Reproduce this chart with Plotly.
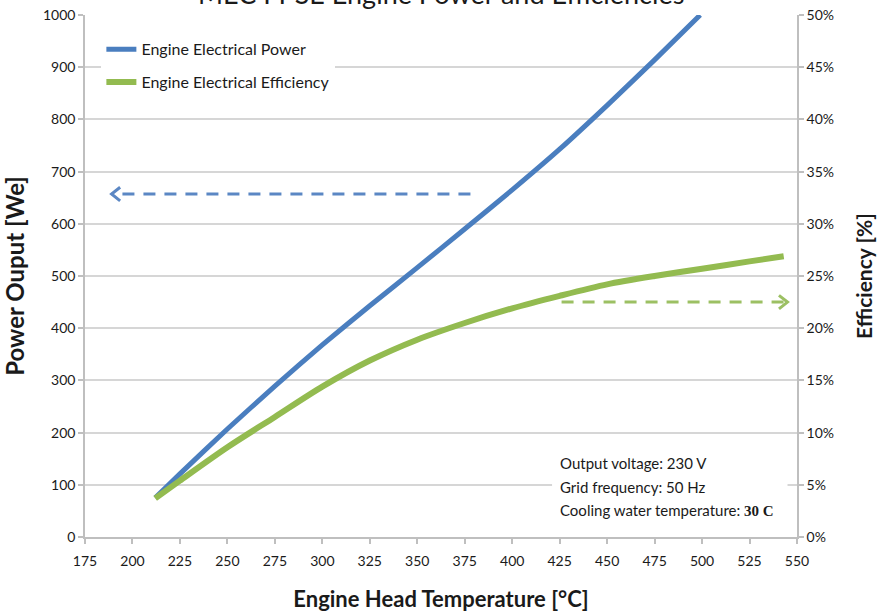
import plotly.graph_objects as go

# ---- data ----
temp_power = [212, 225, 250, 275, 300, 325, 350, 375, 400, 425, 450, 475, 499]
power_we = [75, 121, 207, 289, 368, 443, 516, 590, 665, 743, 827, 914, 1000]

temp_eff = [212, 225, 250, 275, 300, 325, 350, 375, 400, 425, 450, 475, 500, 525, 543]
eff_pct = [3.7, 5.4, 8.6, 11.5, 14.4, 16.9, 18.9, 20.5, 21.9, 23.1, 24.2, 25.0, 25.7, 26.4, 26.9]

# direction arrows (which axis each curve belongs to): [tail, tip]
arrow_power_x = [378, 189]
arrow_power_y = [657, 657]
arrow_eff_x = [426, 545]
arrow_eff_y = [22.5, 22.5]

x_ticks = list(range(175, 551, 25))
title_text = "MEC FPSE Engine Power and Efficiencies"
notes = ["Output voltage: 230 V", "Grid frequency: 50 Hz", "Cooling water temperature: "]
note_bold = "30 C"

BLUE = "#4a7ebf"
GREEN = "#93bb50"
BLUE_D = "#5b87c4"
GREEN_D = "#9cc063"
FONT = "Lato"
TXT = "#1a1a1a"

fig = go.Figure()

fig.add_trace(go.Scatter(
    x=temp_power, y=power_we, mode="lines", name="Engine Electrical Power",
    line=dict(color=BLUE, width=5, shape="spline", smoothing=0.5),
    legendgroup="p", yaxis="y"))
fig.add_trace(go.Scatter(
    x=temp_eff, y=eff_pct, mode="lines", name="Engine Electrical Efficiency",
    line=dict(color=GREEN, width=6, shape="spline", smoothing=0.8),
    legendgroup="e", yaxis="y2"))


def dashed_arrow(xs, ys, color, axis, dx, dy):
    fig.add_trace(go.Scatter(
        x=xs, y=ys, mode="lines", showlegend=False, hoverinfo="skip", yaxis=axis,
        line=dict(color=color, width=3, dash="12px,9px")))
    tx, ty = xs[-1], ys[-1]
    fig.add_trace(go.Scatter(
        x=[tx + dx, tx, tx + dx], y=[ty + dy, ty, ty - dy], mode="lines",
        showlegend=False, hoverinfo="skip", yaxis=axis,
        line=dict(color=color, width=3)))


dashed_arrow(arrow_power_x, arrow_power_y, BLUE_D, "y", 4.5, 13)
dashed_arrow(arrow_eff_x, arrow_eff_y, GREEN_D, "y2", -4.5, 0.65)

axis_gray = "#bfbfbf"
tick_font = dict(family=FONT, size=14, color=TXT)

fig.update_layout(
    width=879, height=613,
    margin=dict(l=85, r=82, t=15, b=76),
    paper_bgcolor="white", plot_bgcolor="white",
    font=dict(family=FONT, color=TXT),
    xaxis=dict(range=[175, 550], tickvals=x_ticks, showgrid=False, automargin=False,
               showline=True, linecolor=axis_gray, linewidth=1.5,
               ticks="outside", ticklen=5, tickcolor=axis_gray, tickwidth=1.5,
               tickfont=tick_font, zeroline=False, ticklabelstandoff=5,
               title=dict(text="<b>Engine Head Temperature [°C]</b>",
                          font=dict(family=FONT, size=22, color=TXT), standoff=24)),
    yaxis=dict(range=[0, 1000], dtick=100, showgrid=True, gridcolor="#d6d6d6",
               gridwidth=1.5, showline=True, linecolor=axis_gray, linewidth=1.5,
               automargin=False,
               ticks="outside", ticklen=5, tickcolor=axis_gray, tickwidth=1.5,
               tickfont=tick_font, zeroline=False,
               title=dict(text="<b>Power Ouput [We]</b>",
                          font=dict(family=FONT, size=24, color=TXT), standoff=16)),
    yaxis2=dict(range=[0, 50], dtick=5, ticksuffix="%", overlaying="y", side="right",
                showgrid=False, showline=True, linecolor=axis_gray, linewidth=1.5,
                automargin=False,
                ticks="outside", ticklen=5, tickcolor=axis_gray, tickwidth=1.5,
                tickfont=tick_font, zeroline=False,
                title=dict(text="<b>Efficiency [%]</b>",
                           font=dict(family=FONT, size=21, color=TXT), standoff=24)),
    legend=dict(x=0.023, y=0.967, xanchor="left", yanchor="top",
                bgcolor="white", font=dict(family=FONT, size=16, color=TXT),
                traceorder="grouped", tracegroupgap=9),
    showlegend=True,
)

# white box behind the notes (hides the gridline there)
fig.add_shape(type="rect", xref="x", yref="y", x0=421, x1=545, y0=19, y1=172,
              fillcolor="white", line=dict(width=0), layer="between")

note_y = [0.142, 0.096, 0.052]
for i, t in enumerate(notes):
    txt = t
    if i == 2:
        txt = t + "<b><span style='font-family:Liberation Serif;font-size:15px'>" + note_bold + "</span></b>"
    fig.add_annotation(text=txt, xref="paper", yref="paper", x=0.664, y=note_y[i],
                       xanchor="left", yanchor="middle", showarrow=False,
                       font=dict(family=FONT, size=15, color=TXT))

# title (cut off at the top of the picture, as in the reference)
fig.add_annotation(text=title_text, xref="paper", yref="paper", x=0.5, y=1,
                   xanchor="center", yanchor="middle", yshift=22, showarrow=False,
                   font=dict(family=FONT, size=27, color=TXT))

fig.write_html("out.html", config={"displayModeBar": False},
               post_script="document.body.style.margin='0';")
